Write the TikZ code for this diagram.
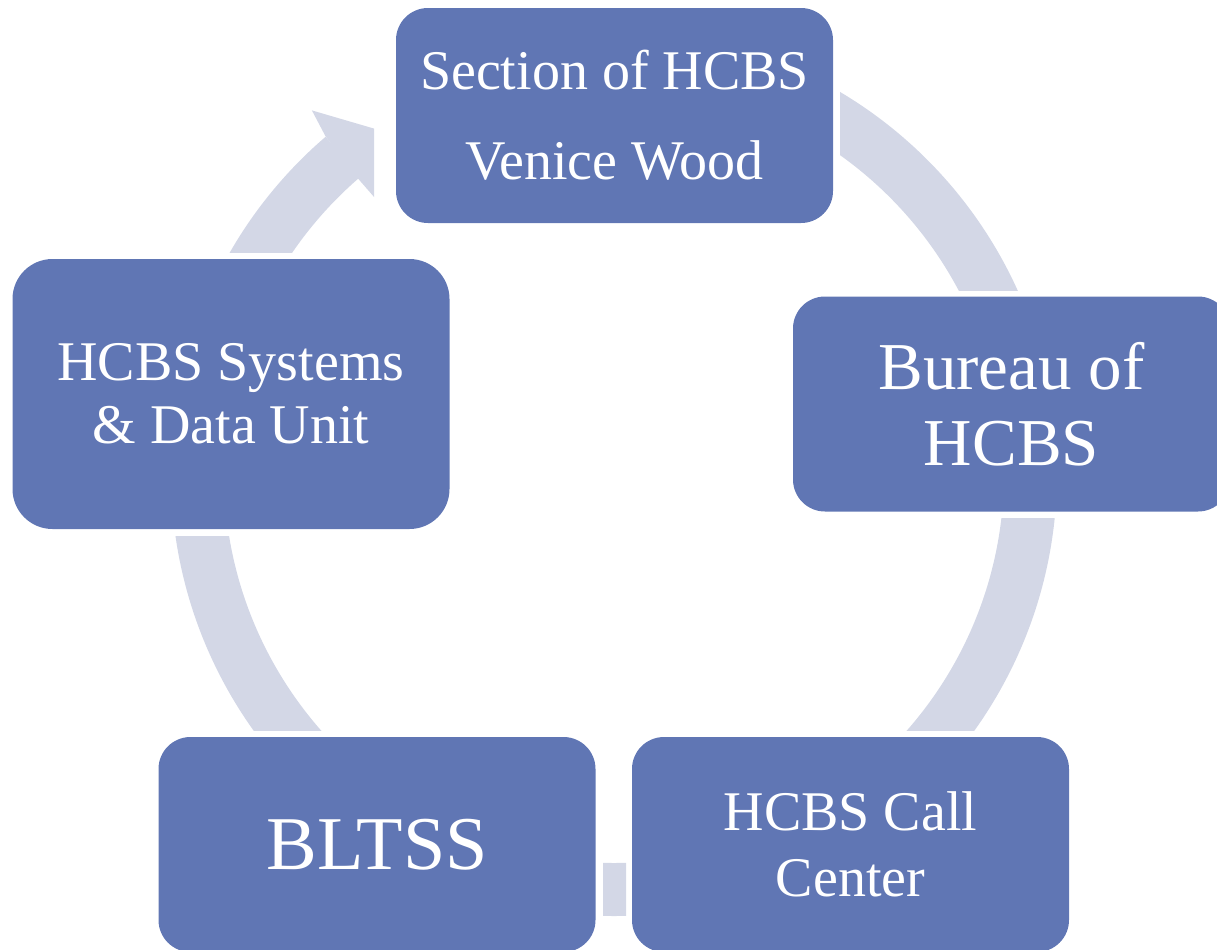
\documentclass[tikz,border=0pt]{standalone}
\IfFileExists{pplr8t.tfm}{\usepackage[T1]{fontenc}\renewcommand\rmdefault{ppl}}{\usepackage{fontspec}\setmainfont{Liberation Serif}}
\usepackage{xcolor}
\usepackage{tikz}

\definecolor{boxblue}{HTML}{6076B4}
\definecolor{ringgray}{HTML}{D3D7E6}

\begin{document}
\begin{tikzpicture}[x=0.5pt,y=0.5pt,
		unit/.style={fill=boxblue,rounded corners=16pt,text=white,align=center,inner sep=0pt,
			minimum width=218.5pt,minimum height=107.5pt},
		ring/.style={draw=ringgray,line width=26.5pt}]
		\useasboundingbox (0,0) rectangle (1217,-949);
		\clip (0,0) rectangle (1217,-949);
		\coordinate (hub) at (614,-473);

		\begin{scope}
			\clip (840,0) rectangle (1217,-290);
			\draw[ring] (hub) ++(80:416.5) arc[start angle=80,end angle=0,radius=416.5];
		\end{scope}
		\begin{scope}
			\clip (614,-518) rectangle (1217,-730);
			\draw[ring] (hub) ++(0:416.5) arc[start angle=0,end angle=-80,radius=416.5];
		\end{scope}
		\begin{scope}
			\clip (603,-800) rectangle (626,-949);
			\draw[ring] (hub) ++(280:416.5) arc[start angle=280,end angle=260,radius=416.5];
		\end{scope}
		\begin{scope}
			\clip (0,-536) rectangle (614,-730);
			\draw[ring] (hub) ++(260:416.5) arc[start angle=260,end angle=180,radius=416.5];
		\end{scope}
		\begin{scope}
			\clip (0,0) rectangle (374,-252);
			\draw[ring] (hub) ++(180:416.5) arc[start angle=180,end angle=130.6,radius=416.5];
			\fill[ringgray,shift={(hub)}] (130.6:443) -- (129.8:472) -- (124.5:416.5)
				-- (131:355) -- (131:390) -- cycle;
		\end{scope}

		\node[unit,font=\fontsize{28}{45}\selectfont] (sect) at (614.5,-115.5) {Section of HCBS\\Venice Wood};
		\node[unit,font=\fontsize{33.5}{38}\selectfont] (bureau) at (1011.5,-404) {Bureau of\\HCBS};
		\node[unit,font=\fontsize{28}{33}\selectfont] (callctr) at (850.5,-844.5) {HCBS Call\\Center};
		\node[unit,font=\fontsize{38}{44}\selectfont] (bltss) at (377,-844.5) {BLTSS};
		\node[unit,minimum height=135pt,rounded corners=20pt,font=\fontsize{28}{31.5}\selectfont] (sysdata) at (231,-394) {HCBS Systems\\\& Data Unit};
	\end{tikzpicture}
\end{document}
